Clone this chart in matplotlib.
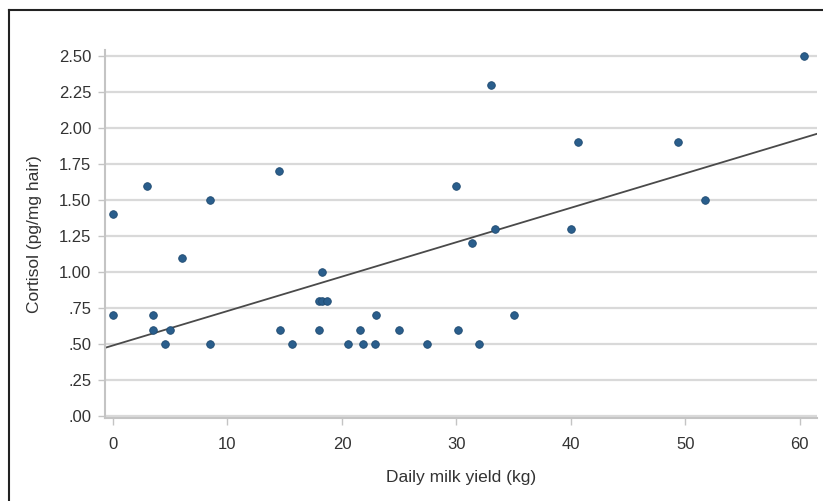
import matplotlib
matplotlib.use("Agg")
import matplotlib.pyplot as plt
from matplotlib.lines import Line2D
import numpy as np

plt.rcParams['font.family'] = ['Liberation Sans', 'DejaVu Sans']

milk_yield = [0, 0, 3, 3.5, 3.5, 4.5, 5, 6, 8.5, 8.5, 14.5, 14.6, 15.6,
              18.0, 18.3, 18.7, 18.3, 18.0, 20.5, 21.6, 21.8, 22.9, 23.0,
              25.0, 27.4, 30.0, 30.1, 31.4, 32.0, 33.0, 33.4, 35.0, 40.0,
              40.6, 49.4, 51.7, 60.4]
cortisol = [1.4, 0.7, 1.6, 0.7, 0.6, 0.5, 0.6, 1.1, 1.5, 0.5, 1.7, 0.6, 0.5,
            0.8, 0.8, 0.8, 1.0, 0.6, 0.5, 0.6, 0.5, 0.5, 0.7,
            0.6, 0.5, 1.6, 0.6, 1.2, 0.5, 2.3, 1.3, 0.7, 1.3,
            1.9, 1.9, 1.5, 2.5]
fit_intercept = 0.49
fit_slope = 0.0239

y_ticks = [0, 0.25, 0.5, 0.75, 1.0, 1.25, 1.5, 1.75, 2.0, 2.25, 2.5]
y_tick_labels = [".00", ".25", ".50", ".75", "1.00", "1.25", "1.50", "1.75",
                 "2.00", "2.25", "2.50"]
x_ticks = [0, 10, 20, 30, 40, 50, 60]

fig = plt.figure(figsize=(8.23, 5.01), dpi=100)
ax = fig.add_axes([0.1276, 0.1657, 0.8651, 0.7345])

xlim = (-0.7, 61.5)
ax.set_xlim(*xlim)
ax.set_ylim(-0.014, 2.542)

ax.set_yticks(y_ticks)
ax.set_yticklabels(y_tick_labels)
ax.set_xticks(x_ticks)

ax.grid(axis='y', color='#d9d9d9', linewidth=1.6, zorder=0)
ax.set_axisbelow(True)

xs = np.array(xlim)
ax.plot(xs, fit_intercept + fit_slope * xs, color='#4a4a4a', linewidth=1.3, zorder=2)

ax.scatter(milk_yield, cortisol, s=30, color='#2a5e8c', edgecolor='#1f4a70',
           linewidth=0.6, zorder=3)

for side in ['top', 'right']:
    ax.spines[side].set_visible(False)
for side in ['left', 'bottom']:
    ax.spines[side].set_color('#c4c4c4')
    ax.spines[side].set_linewidth(1.5)

ax.tick_params(axis='both', colors='#c4c4c4', labelcolor='#333333',
               labelsize=12, length=5, width=1)
ax.tick_params(axis='y', pad=5)
ax.tick_params(axis='x', pad=9)

ax.set_xlabel("Daily milk yield (kg)", fontsize=12.5, color='#333333', labelpad=13)
ax.set_ylabel("Cortisol (pg/mg hair)", fontsize=12.5, color='#333333', labelpad=12)

# outer frame (left and top edges visible)
fig.add_artist(Line2D([9 / 823, 9 / 823], [0, 1 - 10 / 501], color='#222222',
                      linewidth=1.5, transform=fig.transFigure))
fig.add_artist(Line2D([9 / 823, 1], [1 - 10 / 501, 1 - 10 / 501], color='#222222',
                      linewidth=1.5, transform=fig.transFigure))

fig.savefig("out.png", dpi=100)
